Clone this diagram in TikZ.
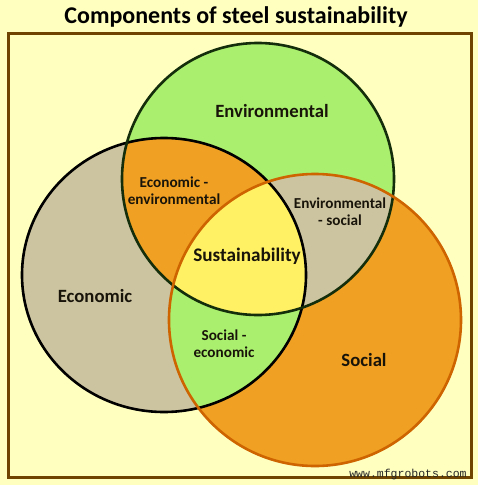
\documentclass[tikz,border=0pt]{standalone}
\usepackage{fontspec}
\setmainfont{Carlito}
\newfontfamily\wmfont{Liberation Mono}
\definecolor{bgc}{RGB}{255,255,192}
\definecolor{framec}{RGB}{110,68,0}
\definecolor{greenc}{RGB}{170,240,110}
\definecolor{tanc}{RGB}{204,196,160}
\definecolor{orangec}{RGB}{240,160,35}
\definecolor{yellowc}{RGB}{255,240,100}
\definecolor{socline}{RGB}{205,100,0}
\definecolor{envline}{RGB}{20,45,10}
\definecolor{txtc}{RGB}{25,20,10}
\tikzset{
  lbl/.style={font=\bfseries\fontsize{15.2}{17}\selectfont, text=txtc, align=center, inner sep=0pt},
  biglbl/.style={font=\bfseries\fontsize{18.7}{22}\selectfont, text=txtc, inner sep=0pt},
  circline/.style={line width=2.6pt}
}
\def\envpath{(258,179) circle [radius=136pt]}
\def\ecopath{(164,275) ellipse [x radius=142pt, y radius=137pt]}
\def\socpath{(315,320) circle [radius=146pt]}
\begin{document}
\begin{tikzpicture}[x=1pt,y=-1pt]
\useasboundingbox (0,0) rectangle (478,485);
\fill[bgc] (0,0) rectangle (478,485);
\node[font=\bfseries\fontsize{24}{28}\selectfont, inner sep=0pt] (title) at (236,17) {Components of steel sustainability};
\draw[framec, line width=3pt] (8.5,33.5) rectangle (471.5,477.5);
% base fills
\fill[tanc] \ecopath;
\fill[greenc] \envpath;
\fill[orangec] \socpath;
% pairwise overlaps
\begin{scope}\clip \envpath; \fill[orangec] \ecopath; \end{scope}
\begin{scope}\clip \envpath; \fill[tanc] \socpath; \end{scope}
\begin{scope}\clip \ecopath; \fill[greenc] \socpath; \end{scope}
\begin{scope}\clip \envpath; \clip \ecopath; \fill[yellowc] \socpath; \end{scope}
% outlines
\draw[circline, black] \ecopath;
\draw[circline, envline] \envpath;
\draw[circline, socline] \socpath;
% labels
\node[biglbl] (env) at (272,111) {Environmental};
\node[biglbl] (eco) at (95,296) {Economic};
\node[biglbl] (soc) at (364,360) {Social};
\node[font=\bfseries\fontsize{19.2}{22}\selectfont, text=txtc, inner sep=0pt] (sus) at (247,256) {Sustainability};
\node[lbl] (ecoenv) at (174,191) {Economic -\\environmental};
\node[lbl] (envsoc) at (340,212) {Environmental\\- social};
\node[lbl] (soceco) at (224,344) {Social -\\economic};
\node[font=\wmfont\fontsize{11.5}{12}\selectfont, text=black!85, inner sep=0pt] (wm) at (408,475) {www.mfgrobots.com};
\end{tikzpicture}
\end{document}
